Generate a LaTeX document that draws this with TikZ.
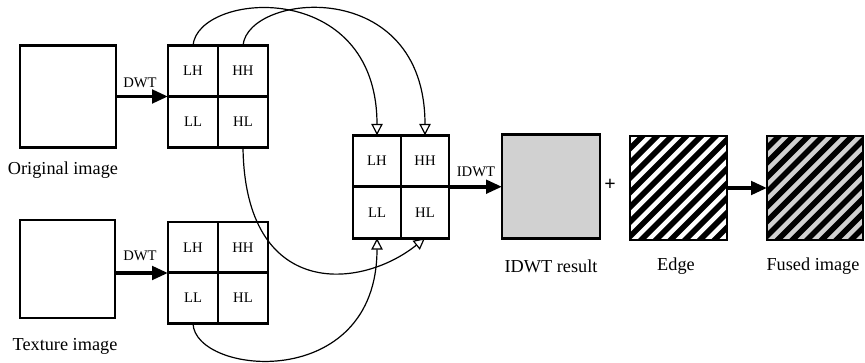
\documentclass[tikz,border=0pt]{standalone}
\usepackage{fontspec}
\setmainfont{Liberation Serif}
\usetikzlibrary{positioning,arrows.meta}

\tikzset{
  pic box/.style={draw,line width=2.2pt,inner sep=0pt,outer sep=0pt},
  band/.style={draw,line width=2pt,inner sep=0pt,outer sep=0pt,minimum width=37.5pt,minimum height=38.25pt,font=\fontsize{11}{13}\selectfont},
  caption/.style={font=\fontsize{13.7}{16}\selectfont,inner sep=0pt},
  tag/.style={font=\fontsize{11}{13}\selectfont,inner sep=0pt},
  fat arrow/.style={line width=2.8pt,-{Triangle[length=12pt,width=10pt]}},
  feed/.style={line width=0.9pt,-{Triangle[open,length=8.5pt,width=8.5pt]}},
  stripe/.style={line width=4.2pt},
  striped/.style={path picture={
    \foreach \k in {-7,...,7}
      \draw[stripe] ([xshift=\k*11pt]path picture bounding box.center) +(-75,75) -- +(75,-75);}},
}

\begin{document}
\begin{tikzpicture}[x=0.75pt,y=-0.75pt]
\useasboundingbox (0,0) rectangle (865,363);

% source images
\node[pic box,minimum width=72pt,minimum height=76.5pt] (orig) at (68,96.5) {};
\node[caption] (origcap) at (63,170) {Original image};
\node[pic box,minimum width=71.25pt,minimum height=73.5pt] (tex) at (67.5,269) {};
\node[caption] (texcap) at (65,346) {Texture image};

% wavelet bands of the original
\node[band] (alh) at (193,71) {LH};
\node[band] (ahh) at (243,71) {HH};
\node[band] (all) at (193,122) {LL};
\node[band] (ahl) at (243,122) {HL};

% wavelet bands of the texture
\node[band] (blh) at (193,247.5) {LH};
\node[band] (bhh) at (243,247.5) {HH};
\node[band] (bll) at (193,298) {LL};
\node[band] (bhl) at (243,298) {HL};

% combined bands
\node[band,minimum width=36pt,minimum height=38.6pt] (clh) at (377,161) {LH};
\node[band,minimum width=36pt,minimum height=38.6pt] (chh) at (425,161) {HH};
\node[band,minimum width=36pt,minimum height=38.6pt] (cll) at (377,212.5) {LL};
\node[band,minimum width=36pt,minimum height=38.6pt] (chl) at (425,212.5) {HL};

% results
\node[pic box,fill=black!18,minimum width=73.5pt,minimum height=78pt] (res) at (551,186.5) {};
\node[caption] (rescap) at (551,266) {IDWT result};
\node[font=\bfseries\fontsize{15}{15}\selectfont,inner sep=0pt] (plus) at (610,185) {+};
\node[pic box,striped,minimum width=72.75pt,minimum height=78pt] (edge) at (678.5,188) {};
\node[caption] (edgecap) at (676,266) {Edge};
\node[pic box,fill=black!18,striped,minimum width=72pt,minimum height=78pt] (fused) at (815,188) {};
\node[caption] (fusedcap) at (813,266) {Fused image};

% transforms
\draw[fat arrow] (orig.east |- alh.south west) -- (alh.south west);
\node[tag] (dwta) at (140,83) {DWT};
\draw[fat arrow] (tex.east |- blh.south west) -- (blh.south west);
\node[tag] (dwtb) at (140,256) {DWT};
\draw[fat arrow] (chh.south east) -- (res.west |- chh.south east);
\node[tag] (idwt) at (476,172) {IDWT};
\draw[fat arrow] (edge.east) -- (fused.west);

% band selection
\draw[feed] (alh.north) .. controls +(5,-54) and +(0,-158) .. (clh.north);
\draw[feed] (ahh.north) .. controls +(5,-53) and +(0,-160) .. (chh.north);
\draw[feed] (ahl.south) .. controls +(2,152) and +(-65,52) .. (chl.south);
\draw[feed] (bll.south) .. controls +(2,52) and +(0,155) .. (cll.south);
\end{tikzpicture}
\end{document}
